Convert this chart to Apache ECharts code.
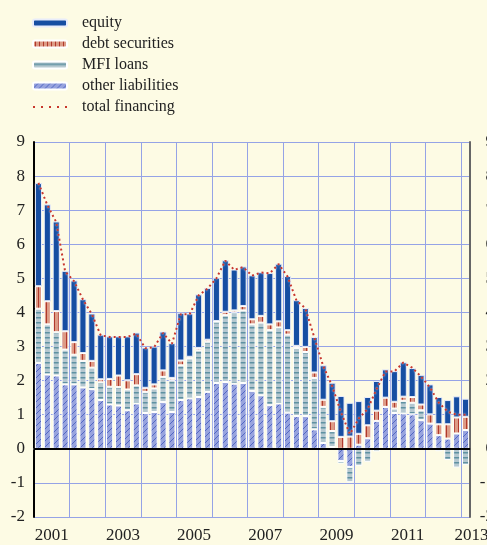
<!DOCTYPE html>
<html>
<head>
<meta charset="utf-8">
<script src="https://cdn.jsdelivr.net/npm/echarts@6/dist/echarts.min.js"></script>
<style>
  html, body { margin: 0; padding: 0; background: #fdfbe4; }
  #chart { width: 487px; height: 545px; }
</style>
</head>
<body>
<div id="chart"></div>
<script>
// quarterly data, 2001 Q1 .. 2013 Q1 (percentage points)
const quarters = [];
for (let y = 2001; y <= 2013; y++) {
    for (let q = 1; q <= 4; q++) {
        if (y === 2013 && q > 1) break;
        quarters.push(y + 'Q' + q);
    }
}

const otherLiabilities = [
    2.52, 2.18, 2.15, 1.89, 1.89, 1.80, 1.75, 1.43,
    1.30, 1.27, 1.13, 1.33, 1.05, 1.08, 1.37, 1.08,
    1.43, 1.48, 1.52, 1.67, 1.93, 1.96, 1.91, 1.93,
    1.70, 1.57, 1.28, 1.33, 1.06, 0.96, 0.96, 0.57,
    0.17, 0.05, -0.36, -0.53, 0.12, 0.31, 0.82, 1.23,
    1.05, 1.04, 1.01, 0.84, 0.74, 0.40, 0.30, 0.45,
    0.55
];
const mfiLoans = [
    1.59, 1.47, 1.27, 1.02, 0.87, 0.78, 0.63, 0.52,
    0.52, 0.54, 0.61, 0.53, 0.62, 0.69, 0.74, 0.93,
    1.02, 1.17, 1.37, 1.47, 1.80, 1.96, 2.09, 2.13,
    1.95, 2.13, 2.20, 2.23, 2.29, 2.00, 1.88, 1.51,
    1.06, 0.47, -0.07, -0.45, -0.50, -0.38, -0.08, 0,
    0.13, 0.37, 0.34, 0.29, 0, -0.07, -0.33, -0.55,
    -0.47
];
const debtSecurities = [
    0.66, 0.68, 0.62, 0.54, 0.37, 0.23, 0.20, 0.09,
    0.23, 0.34, 0.27, 0.33, 0.12, 0.12, 0.19, 0.07,
    0.14, 0.05, 0.07, 0.06, 0.02, 0.10, 0.06, 0.13,
    0.15, 0.20, 0.17, 0.18, 0.13, 0.06, 0.15, 0.16,
    0.21, 0.29, 0.35, 0.36, 0.32, 0.38, 0.30, 0.27,
    0.20, 0.12, 0.17, 0.17, 0.27, 0.32, 0.42, 0.47,
    0.39
];
const equity = [
    3.03, 2.84, 2.63, 1.77, 1.81, 1.58, 1.39, 1.31,
    1.25, 1.15, 1.29, 1.22, 1.18, 1.11, 1.14, 1.02,
    1.40, 1.27, 1.57, 1.52, 1.27, 1.51, 1.20, 1.16,
    1.29, 1.28, 1.51, 1.69, 1.59, 1.34, 1.14, 1.04,
    1.01, 1.13, 1.20, 0.99, 0.96, 0.83, 0.87, 0.83,
    0.90, 1.01, 0.85, 0.87, 0.88, 0.80, 0.71, 0.62,
    0.53
];
const totalFinancing = [
    7.80, 7.15, 6.65, 5.20, 4.92, 4.38, 3.95, 3.33,
    3.28, 3.28, 3.28, 3.38, 2.95, 2.98, 3.40, 3.08,
    3.95, 3.95, 4.50, 4.70, 5.00, 5.52, 5.25, 5.33,
    5.08, 5.17, 5.15, 5.42, 5.05, 4.35, 4.12, 3.27,
    2.43, 1.85, 1.07, 0.43, 0.89, 1.17, 1.75, 2.27,
    2.27, 2.53, 2.38, 2.12, 1.80, 1.35, 1.09, 1.00,
    1.00
];
const yTicks = { min: -2, max: 9, step: 1 };

const serif = 'Liberation Serif';

const makePattern = (w, h, draw) => {
    const c = document.createElement('canvas');
    c.width = w;
    c.height = h;
    draw(c.getContext('2d'), w, h);
    return { image: c, repeat: 'repeat' };
};

const debtPattern = makePattern(4, 4, (ctx, w, h) => {
    ctx.fillStyle = '#dd9b86';
    ctx.fillRect(0, 0, w, h);
    ctx.fillStyle = '#b0392c';
    ctx.fillRect(2, 0, 1, h);
});

const mfiPattern = makePattern(4, 5, (ctx, w, h) => {
    ctx.fillStyle = '#b5c8d0';
    ctx.fillRect(0, 0, w, h);
    ctx.fillStyle = '#5f91a2';
    ctx.fillRect(0, 2, w, 1.5);
});

const otherPattern = makePattern(6, 6, (ctx, w, h) => {
    ctx.fillStyle = '#97a3de';
    ctx.fillRect(0, 0, w, h);
    ctx.strokeStyle = '#4058bc';
    ctx.lineWidth = 0.8;
    ctx.beginPath();
    ctx.moveTo(0, h); ctx.lineTo(w, 0);
    ctx.moveTo(-1, 1); ctx.lineTo(1, -1);
    ctx.moveTo(w - 1, h + 1); ctx.lineTo(w + 1, h - 1);
    ctx.stroke();
});

// dotted legend icon for the total line
const dottedIcon = 'path://M0,0h2v2h-2zM8,0h2v2h-2zM16,0h2v2h-2zM24,0h2v2h-2zM32,0h2v2h-2z';

const barBase = {
    type: 'bar',
    stack: 'fin',
    stackStrategy: 'samesign',
    barCategoryGap: '20%',
    animation: false
};

const chart = echarts.init(document.getElementById('chart'));

const option = {
    backgroundColor: '#fdfbe4',
    animation: false,
    legend: {
        orient: 'vertical',
        left: 32,
        top: 15,
        padding: 0,
        itemWidth: 34,
        itemHeight: 7,
        itemGap: 5,
        textStyle: { fontFamily: serif, fontSize: 16, color: '#222', padding: [0, 0, 0, 10] },
        data: [
            'equity',
            'debt securities',
            'MFI loans',
            'other liabilities',
            { name: 'total financing', icon: dottedIcon }
        ]
    },
    grid: {
        left: 34,
        right: 17,
        top: 142,
        bottom: 28,
        containLabel: false,
        outerBoundsMode: 'none'
    },
    xAxis: {
        type: 'category',
        data: quarters,
        boundaryGap: true,
        axisLine: { lineStyle: { color: '#555', width: 2 } },
        axisTick: {
            interval: (i) => i % 4 === 0,
            length: 4,
            lineStyle: { color: '#444', width: 2 }
        },
        splitLine: {
            show: true,
            interval: (i) => i % 4 === 0,
            lineStyle: { color: '#95a3e6', width: 1 }
        },
        axisLabel: {
            interval: (i, v) => (v.endsWith('Q3') && parseInt(v) % 2 === 1) || v === '2013Q1',
            formatter: (v) => v === '2013Q1' ? '{r|2013}' : '{l|' + v.slice(0, 4) + '}',
            margin: 10,
            fontFamily: serif,
            fontSize: 17,
            color: '#222',
            rich: {
                l: { fontFamily: serif, fontSize: 17, color: '#222', padding: [0, 9, 0, 0] },
                r: { fontFamily: serif, fontSize: 17, color: '#222', padding: [0, 0, 0, 12] }
            }
        }
    },
    yAxis: [
        {
            type: 'value',
            min: yTicks.min,
            max: yTicks.max,
            interval: yTicks.step,
            position: 'left',
            axisLine: { show: true, lineStyle: { color: '#000', width: 2 } },
            axisTick: { show: false },
            splitLine: { lineStyle: { color: '#95a3e6', width: 1 } },
            axisLabel: { margin: 9, fontFamily: serif, fontSize: 17, color: '#222' }
        },
        {
            type: 'value',
            min: yTicks.min,
            max: yTicks.max,
            interval: yTicks.step,
            position: 'right',
            axisLine: { show: true, lineStyle: { color: '#666', width: 2 } },
            axisTick: { show: false },
            splitLine: { show: false },
            axisLabel: { margin: 24, align: 'right', fontFamily: serif, fontSize: 17, color: '#222' }
        }
    ],
    series: [
        {
            ...barBase,
            name: 'other liabilities',
            data: otherLiabilities,
            itemStyle: { color: otherPattern, borderColor: '#fff', borderWidth: 1 }
        },
        {
            ...barBase,
            name: 'MFI loans',
            data: mfiLoans,
            itemStyle: { color: mfiPattern, borderColor: '#fff', borderWidth: 1 }
        },
        {
            ...barBase,
            name: 'debt securities',
            data: debtSecurities,
            itemStyle: { color: debtPattern, borderColor: '#fff', borderWidth: 1 }
        },
        {
            ...barBase,
            name: 'equity',
            data: equity,
            itemStyle: { color: '#164ea2', borderColor: '#e8ecfa', borderWidth: 1 },
            markLine: {
                silent: true,
                symbol: ['none', 'none'],
                label: { show: false },
                lineStyle: { color: '#000', width: 2, type: 'solid' },
                data: [{ yAxis: 0 }]
            }
        },
        {
            name: 'total financing',
            type: 'line',
            data: totalFinancing,
            symbol: 'none',
            z: 5,
            animation: false,
            lineStyle: {
                color: '#c8372c',
                width: 2,
                type: [2, 3],
                shadowColor: 'rgba(255,255,255,0.9)',
                shadowBlur: 2
            },
            itemStyle: { color: '#c8372c' }
        }
    ]
};

chart.setOption(option);
</script>
</body>
</html>
